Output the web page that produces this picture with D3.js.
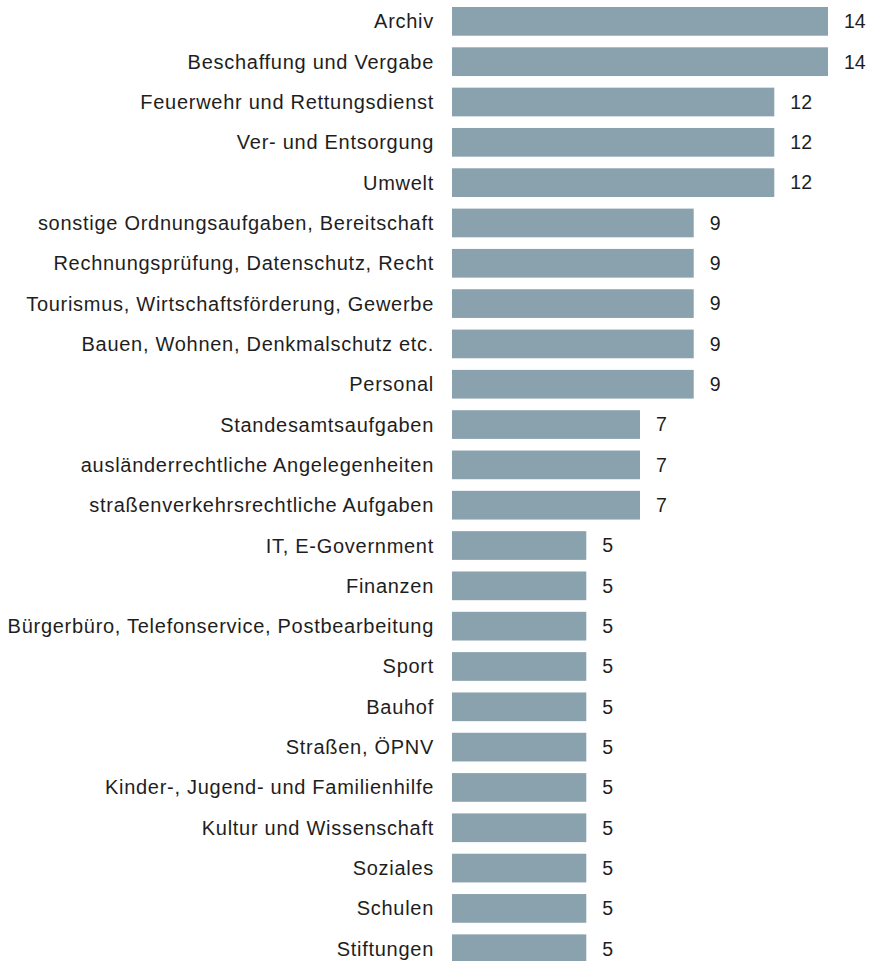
<!DOCTYPE html>
<meta charset="utf-8">
<head>
  <title>Aufgabenbereiche</title>
</head>
<style>
body { margin: 0; background: #fff; }
svg { display: block; }
text { font-family: "Liberation Sans", Arial, sans-serif; fill: #1e1e1e; }
.bar { fill: #8aa2ae; }
</style>
<body>
<script src="https://d3js.org/d3.v7.min.js"></script>
<script>

  // Kategorien und Werte
  var categories = [
    "Archiv",
    "Beschaffung und Vergabe",
    "Feuerwehr und Rettungsdienst",
    "Ver- und Entsorgung",
    "Umwelt",
    "sonstige Ordnungsaufgaben, Bereitschaft",
    "Rechnungsprüfung, Datenschutz, Recht",
    "Tourismus, Wirtschaftsförderung, Gewerbe",
    "Bauen, Wohnen, Denkmalschutz etc.",
    "Personal",
    "Standesamtsaufgaben",
    "ausländerrechtliche Angelegenheiten",
    "straßenverkehrsrechtliche Aufgaben",
    "IT, E-Government",
    "Finanzen",
    "Bürgerbüro, Telefonservice, Postbearbeitung",
    "Sport",
    "Bauhof",
    "Straßen, ÖPNV",
    "Kinder-, Jugend- und Familienhilfe",
    "Kultur und Wissenschaft",
    "Soziales",
    "Schulen",
    "Stiftungen"
  ];
  var values = [14, 14, 12, 12, 12, 9, 9, 9, 9, 9, 7, 7, 7, 5, 5, 5, 5, 5, 5, 5, 5, 5, 5, 5];

  var width = 869,
      height = 961;

  var svg = d3.select("body").append("svg")
    .attr("width", width)
    .attr("height", height);

  var x = d3.scaleLinear()
    .domain([0, 14])
    .range([452, 828]);

  var y = d3.scaleBand()
    .domain(categories)
    .range([1.2, 1.2 + categories.length * 40.32])
    .paddingInner(0.288)
    .paddingOuter(0.144);

  var rows = svg.selectAll(".row")
    .data(categories)
    .enter().append("g")
    .attr("class", "row");

  rows.append("rect")
    .attr("class", "bar")
    .attr("x", x(0))
    .attr("y", function(d) { return y(d); })
    .attr("width", function(d, i) { return x(values[i]) - x(0); })
    .attr("height", y.bandwidth());

  // Beschriftung links
  rows.append("text")
    .attr("x", 434)
    .attr("y", function(d) { return y(d) + y.bandwidth() / 2; })
    .attr("dy", "0.35em")
    .attr("text-anchor", "end")
    .style("font-size", "20px")
    .style("letter-spacing", "0.72px")
    .text(function(d) { return d; });

  // Werte rechts
  rows.append("text")
    .attr("x", function(d, i) { return x(values[i]) + 16; })
    .attr("y", function(d) { return y(d) + y.bandwidth() / 2; })
    .attr("dy", "0.35em")
    .style("font-size", "19.5px")
    .text(function(d, i) { return values[i]; });

</script>
</body>
